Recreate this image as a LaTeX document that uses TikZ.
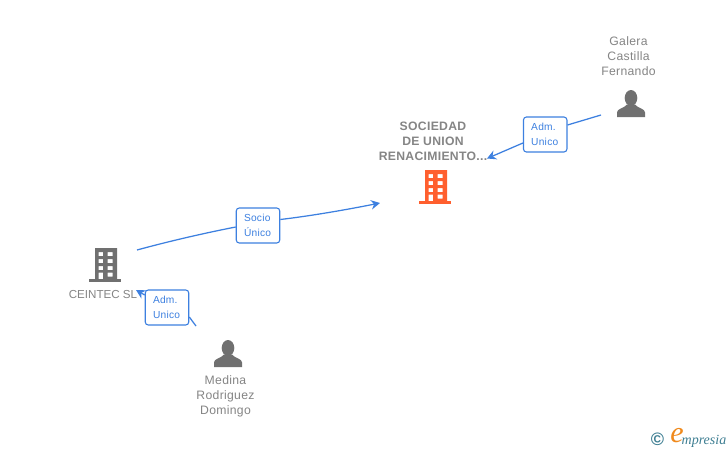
\documentclass[tikz,border=0pt]{standalone}
\usepackage{fontspec}
\setmainfont{Liberation Sans}[LetterSpace=2.5]
\newfontfamily\plainfont{Liberation Sans}
\newfontfamily\logofont{Liberation Serif}
\usetikzlibrary{arrows.meta}
\definecolor{linkblue}{HTML}{3D80E0}
\definecolor{txtgrey}{HTML}{858585}
\definecolor{icongrey}{HTML}{707070}
\definecolor{hub}{HTML}{FF5F2E}
\definecolor{logoteal}{HTML}{3F7F93}
\definecolor{logoorange}{HTML}{F08A1D}
\tikzset{
  relbox/.style={draw=linkblue,fill=white,rounded corners=3pt,line width=1.1pt,minimum width=43.5pt,minimum height=35pt,inner sep=0pt,align=left,text=linkblue,font=\fontsize{10.2}{15}\selectfont},
  link/.style={draw=linkblue,line width=1.25pt},
  linkarrow/.style={link,-{Stealth[length=9pt,width=9.5pt,inset=3pt]}},
  lbl/.style={align=center,text=txtgrey,inner sep=0pt,font=\fontsize{12.2}{15}\selectfont},
  lblb/.style={lbl,font=\fontsize{12.2}{15}\selectfont\bfseries},
  pics/building/.style={code={
    \fill[#1,even odd rule] (-10,-17) rectangle (12,14)
      (-6.5,-13) rectangle (-2,-9) (2.5,-13) rectangle (7.5,-9)
      (-6.5,-6) rectangle (-2,-2) (2.5,-6) rectangle (7.5,-2)
      (-6.5,1) rectangle (-2,5) (2.5,1) rectangle (7.5,5)
      (-6.5,7.5) rectangle (-2,14) (2.5,7.5) rectangle (7.5,11.5);
    \fill[#1] (-16,14) rectangle (16,17);
  }},
  pics/person/.style={code={
    \fill[#1] (0,-5.5) ellipse (6.3 and 8);
    \fill[#1] (-14,13.5) -- (-14,9) .. controls (-14,5) and (-7,5) .. (-4,1) -- (4,1) .. controls (7,5) and (14,5) .. (14,9) -- (14,13.5) -- cycle;
  }}
}
\begin{document}
\begin{tikzpicture}[x=1pt,y=-1pt]
\useasboundingbox (0,0) rectangle (728,450);
\fill[white] (0,0) rectangle (728,450);

\pic at (435,187) {building=hub};
\pic at (105,265) {building=icongrey};
\pic at (631,103.5) {person=icongrey};
\pic at (228,353.5) {person=icongrey};

\node[lblb] (soc) at (433,141) {SOCIEDAD\\DE UNION\\RENACIMIENTO...};
\node[lbl] (gal) at (628.5,56) {Galera\\Castilla\\Fernando};
\node[lbl,font=\plainfont\fontsize{11.6}{15}\selectfont] (cei) at (103,294.5) {CEINTEC SL};
\node[lbl] (med) at (225.5,396.5) {Medina\\Rodriguez\\Domingo};

\coordinate (galS) at (601,115);
\coordinate (socE) at (487,158.5);
\coordinate (ceiE) at (137,250);
\coordinate (socW) at (380,203);
\coordinate (medN) at (196,326);
\coordinate (ceiSE) at (136,290);

\node[relbox,text width=28pt,minimum width=43.5pt] (b1) at (545.2,134.5) {\raisebox{-0.6pt}{Adm.}\\\raisebox{-0.6pt}{Unico}};
\node[relbox,text width=28pt,minimum width=43.5pt] (b2) at (258,225.5) {\raisebox{-0.6pt}{Socio}\\\raisebox{-0.6pt}{Único}};
\node[relbox,text width=28pt,minimum width=43.5pt] (b3) at (167,307.5) {\raisebox{-0.6pt}{Adm.}\\\raisebox{-0.6pt}{Unico}};

\draw[link] (galS) -- (b1.east |- 0,125);
\draw[linkarrow] (b1.west |- 0,143) -- (socE);
\draw[link] (ceiE) .. controls (170,241) and (205,233) .. (b2.west |- 0,227);
\draw[linkarrow] (b2.east |- 0,219.5) .. controls (310,216) and (345,210) .. (socW);
\draw[link] (medN) -- (b3.east |- 0,317);
\draw[linkarrow] (b3.west |- 0,295) -- (ceiSE);

\node[inner sep=0pt,text=logoteal,font=\bfseries\fontsize{18}{18}\selectfont] (copy) at (657.5,439) {©};
\node[inner sep=0pt,text=logoorange,font=\logofont\itshape\fontsize{30}{30}\selectfont] (logoe) at (677,436) {e};
\node[inner sep=0pt,anchor=base west,text=logoteal,font=\logofont\itshape\fontsize{14}{14}\selectfont] (logot) at (681.5,444) {mpresia};
\end{tikzpicture}
\end{document}
